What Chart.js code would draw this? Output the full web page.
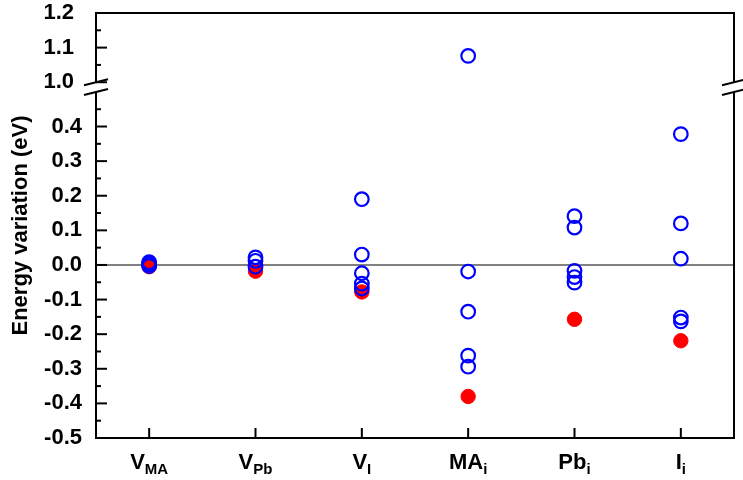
<!DOCTYPE html>
<html><head><meta charset="utf-8">
<script src="https://cdn.jsdelivr.net/npm/chart.js@4.4.1/dist/chart.umd.min.js"></script>
<style>html,body{margin:0;padding:0;background:#fff;} #wrap{width:743px;height:480px;}</style>
</head><body><div id="wrap"><canvas id="c"></canvas></div>
<script>
const categories = ['V_MA', 'V_Pb', 'V_I', 'MA_i', 'Pb_i', 'I_i'];
const blueValues = [
  [0.008, 0.004, 0.0, -0.003],
  [0.022, 0.012, -0.005],
  [0.19, 0.03, -0.024, -0.054, -0.068],
  [1.076, -0.019, -0.135, -0.262, -0.294],
  [0.141, 0.108, -0.017, -0.035, -0.051],
  [0.378, 0.12, 0.018, -0.152, -0.163]
];
const redValues = [-0.005, -0.018, -0.078, -0.38, -0.157, -0.219];
const yTicksLow = [-0.5, -0.45, -0.4, -0.35, -0.3, -0.25, -0.2, -0.15, -0.1, -0.05, 0, 0.05, 0.1, 0.15, 0.2, 0.25, 0.3, 0.35, 0.4, 0.45];
const yTicksHigh = [1.0, 1.05, 1.1, 1.15, 1.2];
const yLowRange = [-0.5, 0.515];
const yHighRange = [0.987, 1.2];
const breakLow = 0.5;
const breakHigh = 1.0;
const breakValue = 0.9;

const FONT = '"Liberation Sans", Arial, sans-serif';
const isMajor = v => Math.abs(Math.round(v * 10) - v * 10) < 1e-6;

const blueLow = [], blueHigh = [];
categories.forEach((c, i) => {
  blueValues[i].forEach(v => {
    (v >= breakValue ? blueHigh : blueLow).push({x: c, y: v});
  });
});
const redPts = categories.map((c, i) => ({x: c, y: redValues[i]}));

const framePlugin = {
  id: 'frame',
  afterDraw(chart) {
    const ctx = chart.ctx;
    const a = chart.chartArea;
    const yL = chart.scales.yLow, yH = chart.scales.yHigh, xs = chart.scales.x;
    const yb1 = yH.getPixelForValue(breakHigh);
    const yb2 = yL.getPixelForValue(breakLow);
    ctx.save();
    ctx.strokeStyle = '#000';
    ctx.lineWidth = 2;
    ctx.lineCap = 'butt';
    // top and bottom borders
    ctx.beginPath();
    ctx.moveTo(a.left - 1, a.top); ctx.lineTo(a.right + 1, a.top);
    ctx.moveTo(a.left - 1, a.bottom); ctx.lineTo(a.right + 1, a.bottom);
    ctx.stroke();
    // left and right borders with gap at break
    [a.left, a.right].forEach(x => {
      ctx.beginPath(); ctx.moveTo(x, a.top); ctx.lineTo(x, yb1);
      ctx.moveTo(x, yb2); ctx.lineTo(x, a.bottom); ctx.stroke();
    });
    // inward y ticks
    [yH, yL].forEach(s => {
      s.ticks.forEach(t => {
        const y = s.getPixelForValue(t.value);
        const len = isMajor(t.value) ? 11 : 5;
        ctx.beginPath(); ctx.moveTo(a.left, y); ctx.lineTo(a.left + len, y); ctx.stroke();
      });
    });
    // inward x ticks
    categories.forEach((c, i) => {
      const x = xs.getPixelForValue(i);
      ctx.beginPath(); ctx.moveTo(x, a.bottom); ctx.lineTo(x, a.bottom - 10); ctx.stroke();
    });
    // break marks
    [a.left, a.right].forEach(x0 => {
      [yb1, yb2].forEach(y0 => {
        ctx.beginPath(); ctx.moveTo(x0 - 12, y0 + 3); ctx.lineTo(x0 + 12, y0 - 3); ctx.stroke();
      });
    });
    // x labels with subscripts
    ctx.fillStyle = '#000';
    ctx.textBaseline = 'alphabetic';
    ctx.textAlign = 'left';
    categories.forEach((c, i) => {
      const [base, sub] = c.split('_');
      const x = xs.getPixelForValue(i);
      ctx.font = 'bold 22px ' + FONT;
      const wb = ctx.measureText(base).width;
      ctx.font = 'bold 15px ' + FONT;
      const ws = ctx.measureText(sub).width;
      const x0 = x - (wb + ws) / 2;
      ctx.font = 'bold 22px ' + FONT;
      ctx.fillText(base, x0, 469);
      ctx.font = 'bold 15px ' + FONT;
      ctx.fillText(sub, x0 + wb, 474);
    });
    ctx.restore();
  }
};

const yCommon = (ticksArr) => ({
  type: 'linear',
  position: 'left',
  stack: 'y',
  afterBuildTicks: s => { s.ticks = ticksArr.map(v => ({value: v})); },
  afterFit: s => { s.width = 62; s.paddingTop = 0; s.paddingBottom = 0; },
  ticks: {
    autoSkip: false,
    padding: 14,
    color: '#000',
    font: {family: FONT, size: 22, weight: 'bold'},
    callback: v => isMajor(v) ? v.toFixed(1) : ''
  },
  border: {display: false},
});

new Chart(document.getElementById('c'), {
  type: 'scatter',
  data: {
    datasets: [
      {label: 'blue', data: blueLow, yAxisID: 'yLow', pointStyle: 'circle', pointRadius: 6.8, pointBorderWidth: 2.2,
       borderColor: '#0000ff', backgroundColor: 'rgba(0,0,0,0)', pointBackgroundColor: 'rgba(0,0,0,0)', pointBorderColor: '#0000ff'},
      {label: 'blueHigh', data: blueHigh, yAxisID: 'yHigh', pointStyle: 'circle', pointRadius: 6.8, pointBorderWidth: 2.2,
       borderColor: '#0000ff', backgroundColor: 'rgba(0,0,0,0)', pointBackgroundColor: 'rgba(0,0,0,0)', pointBorderColor: '#0000ff'},
      {label: 'red', data: redPts, yAxisID: 'yLow', pointStyle: 'circle', pointRadius: 7.2, pointBorderWidth: 1,
       borderColor: '#ff0000', backgroundColor: '#ff0000', pointBackgroundColor: '#ff0000', pointBorderColor: '#ff0000'}
    ]
  },
  options: {
    responsive: true,
    maintainAspectRatio: false,
    animation: false,
    events: [],
    layout: {padding: {top: 13, right: 6, left: 0, bottom: 0}},
    plugins: {legend: {display: false}, tooltip: {enabled: false}},
    scales: {
      x: {
        type: 'category',
        labels: categories,
        offset: true,
        grid: {display: false},
        border: {display: false},
        ticks: {display: false},
        afterFit: s => { s.height = 42; s.paddingLeft = 0; s.paddingRight = 0; }
      },
      yTitle: {
        type: 'linear',
        position: 'left',
        weight: 10,
        grid: {display: false},
        border: {display: false},
        ticks: {display: false},
        title: {display: true, text: 'Energy variation (eV)', color: '#000', padding: {top: 8, bottom: 0},
                font: {family: FONT, size: 22, weight: 'bold'}},
        afterFit: s => { s.width = 34; s.paddingTop = 0; s.paddingBottom = 0; }
      },
      yHigh: Object.assign(yCommon(yTicksHigh), {
        weight: 1, stackWeight: yHighRange[1] - yHighRange[0], min: yHighRange[0], max: yHighRange[1],
        grid: {display: false}
      }),
      yLow: Object.assign(yCommon(yTicksLow), {
        weight: 0, stackWeight: yLowRange[1] - yLowRange[0], min: yLowRange[0], max: yLowRange[1],
        grid: {drawOnChartArea: true, drawTicks: false,
               color: c => (c.tick && Math.abs(c.tick.value) < 1e-9) ? '#808080' : 'rgba(0,0,0,0)',
               lineWidth: c => (c.tick && Math.abs(c.tick.value) < 1e-9) ? 2 : 0}
      })
    }
  },
  plugins: [framePlugin]
});
</script>
</body></html>
